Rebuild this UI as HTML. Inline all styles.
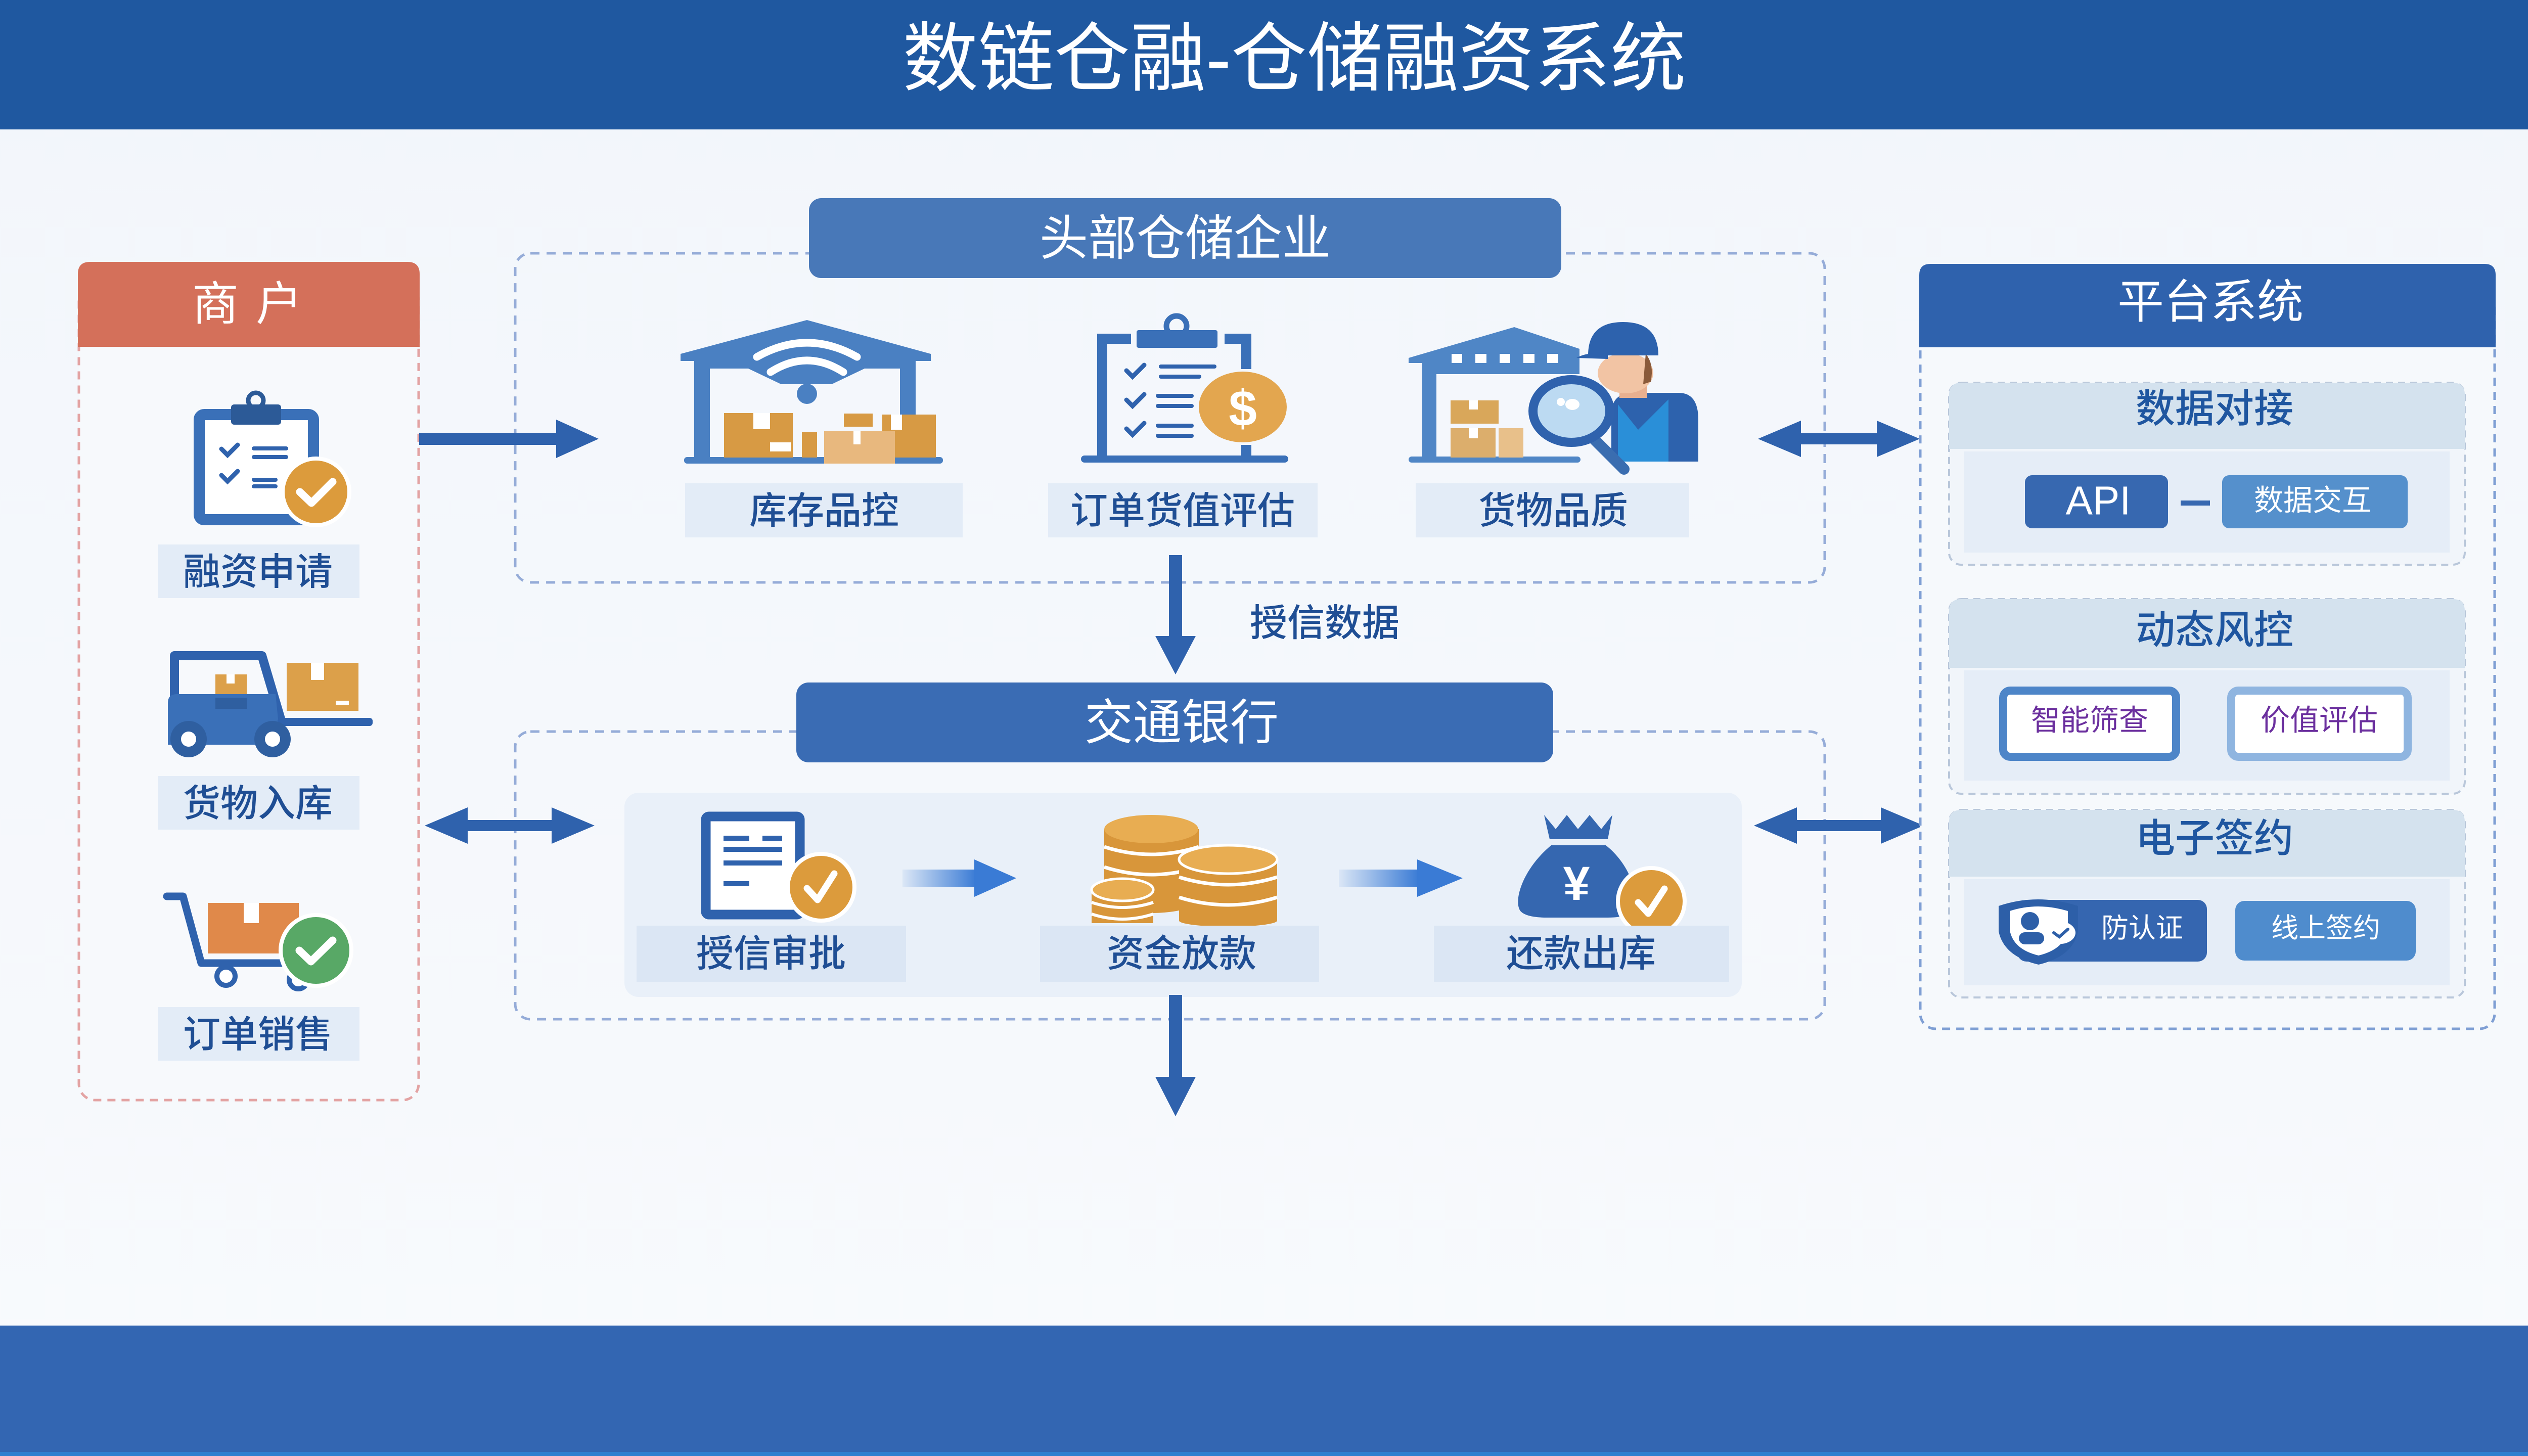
<!DOCTYPE html>
<html><head><meta charset="utf-8">
<style>
html,body{margin:0;padding:0;width:5120px;height:2880px;overflow:hidden;background:#f5f8fc;}
svg{display:block}
text{font-family:"Liberation Sans","Noto Sans CJK SC",sans-serif;}
</style></head><body>
<svg width="5120" height="2880" viewBox="0 0 5120 2880" xmlns="http://www.w3.org/2000/svg">
<defs>
<linearGradient id="bg" x1="0" y1="0" x2="0" y2="1"><stop offset="0" stop-color="#f2f6fb"/><stop offset="1" stop-color="#f8fafd"/></linearGradient>
<linearGradient id="ga" x1="0" x2="1" y1="0" y2="0"><stop offset="0" stop-color="#3a7bd5" stop-opacity="0.08"/><stop offset="1" stop-color="#3a7bd5"/></linearGradient>
</defs>
<rect width="5120" height="2880" fill="url(#bg)"/>

<!-- Header -->
<rect width="5120" height="256" fill="#1f58a0"/>
<text x="2560" y="116" font-size="150" fill="#fff" text-anchor="middle" dominant-baseline="central">数链仓融-仓储融资系统</text>

<!-- Footer -->
<rect y="2622" width="5120" height="258" fill="#3366b2"/>
<rect y="2872" width="5120" height="8" fill="#2f7fcf"/>

<!-- ============ Merchant panel ============ -->
<rect x="156" y="560" width="672" height="1616" rx="32" fill="#f7f9fc" stroke="#e3a3a3" stroke-width="5" stroke-dasharray="16 12"/>
<path d="M154 686 V542 Q154 518 178 518 H806 Q830 518 830 542 V686 Z" fill="#d4705a"/>
<text x="426" y="602" font-size="92" fill="#fff" text-anchor="middle" dominant-baseline="central">商</text>
<text x="552" y="602" font-size="92" fill="#fff" text-anchor="middle" dominant-baseline="central">户</text>

<!-- icon 1 clipboard -->
<rect x="394" y="820" width="226" height="208" rx="10" fill="#fff" stroke="#3a70b8" stroke-width="22"/>
<circle cx="506" cy="792" r="15" fill="none" stroke="#2c5a97" stroke-width="9"/>
<rect x="457" y="800" width="99" height="40" rx="6" fill="#2c5a97"/>
<polyline points="438,888 450,900 470,880" fill="none" stroke="#2f62ad" stroke-width="9" stroke-linecap="round"/>
<polyline points="438,940 450,952 470,932" fill="none" stroke="#2f62ad" stroke-width="9" stroke-linecap="round"/>
<line x1="502" y1="887" x2="566" y2="887" stroke="#2f62ad" stroke-width="8" stroke-linecap="round"/>
<line x1="502" y1="904" x2="566" y2="904" stroke="#2f62ad" stroke-width="8" stroke-linecap="round"/>
<line x1="502" y1="949" x2="545" y2="949" stroke="#2f62ad" stroke-width="8" stroke-linecap="round"/>
<line x1="502" y1="962" x2="545" y2="962" stroke="#2f62ad" stroke-width="8" stroke-linecap="round"/>
<circle cx="625" cy="973" r="66" fill="#dc9b3c" stroke="#fff" stroke-width="8"/>
<polyline points="593,973 616,995 658,953" fill="none" stroke="#fff" stroke-width="15" stroke-linecap="round" stroke-linejoin="round"/>
<rect x="312" y="1077" width="399" height="106" fill="#e3ecf7"/>
<text x="510" y="1131" font-size="74" font-weight="500" fill="#1f4e94" text-anchor="middle" dominant-baseline="central">融资申请</text>

<!-- icon 2 forklift -->
<path d="M345 1400 V1297 H518 L556 1425" fill="none" stroke="#2f62ad" stroke-width="18" stroke-linejoin="round"/>
<rect x="426" y="1334" width="62" height="50" fill="#dca04a"/>
<rect x="448" y="1334" width="16" height="18" fill="#fff"/>
<path d="M332 1390 Q332 1373 350 1373 H545 L555 1473 H332 Z" fill="#3a70b8"/>
<rect x="426" y="1380" width="62" height="22" fill="#2f5fa0"/>
<rect x="549" y="1420" width="188" height="16" rx="6" fill="#2f62ad"/>
<rect x="567" y="1311" width="142" height="95" fill="#dca04a"/>
<rect x="615" y="1311" width="26" height="34" fill="#fff"/>
<rect x="664" y="1386" width="26" height="8" fill="#fff"/>
<circle cx="373" cy="1462" r="36" fill="#2f5fa0"/>
<circle cx="373" cy="1462" r="15" fill="#fff"/>
<circle cx="539" cy="1462" r="36" fill="#2f5fa0"/>
<circle cx="539" cy="1462" r="15" fill="#fff"/>
<rect x="312" y="1535" width="399" height="106" fill="#e3ecf7"/>
<text x="510" y="1589" font-size="74" font-weight="500" fill="#1f4e94" text-anchor="middle" dominant-baseline="central">货物入库</text>

<!-- icon 3 cart -->
<path d="M330 1773 H362 L398 1905 H592" fill="none" stroke="#2f62ad" stroke-width="15" stroke-linecap="round" stroke-linejoin="round"/>
<rect x="411" y="1786" width="180" height="100" fill="#e0894a"/>
<rect x="482" y="1786" width="30" height="40" fill="#fff"/>
<circle cx="447" cy="1931" r="18" fill="#fff" stroke="#2f62ad" stroke-width="10"/>
<circle cx="590" cy="1938" r="18" fill="#fff" stroke="#2f62ad" stroke-width="10"/>
<circle cx="625" cy="1880" r="70" fill="#58a866" stroke="#fff" stroke-width="8"/>
<polyline points="592,1880 615,1902 658,1860" fill="none" stroke="#fff" stroke-width="15" stroke-linecap="round" stroke-linejoin="round"/>
<rect x="312" y="1992" width="399" height="106" fill="#e3ecf7"/>
<text x="510" y="2046" font-size="74" font-weight="500" fill="#1f4e94" text-anchor="middle" dominant-baseline="central">订单销售</text>

<!-- ============ Warehouse section ============ -->
<rect x="1019" y="501" width="2590" height="651" rx="30" fill="none" stroke="#95acd8" stroke-width="5" stroke-dasharray="18 14"/>
<rect x="1600" y="392" width="1488" height="158" rx="24" fill="#4878b8"/>
<text x="2344" y="472" font-size="96" fill="#fff" text-anchor="middle" dominant-baseline="central">头部仓储企业</text>

<!-- arrow merchant -> warehouse -->
<line x1="829" y1="868" x2="1108" y2="868" stroke="#2f62ad" stroke-width="24"/>
<polygon points="1100,830 1184,868 1100,906" fill="#2f62ad"/>

<!-- warehouse icon 1 (wifi) -->
<polygon points="1346,700 1596,633 1841,700 1841,714 1346,714" fill="#4a80c2"/>
<rect x="1373" y="700" width="438" height="29" fill="#4a80c2"/>
<rect x="1373" y="700" width="31" height="212" fill="#4a80c2"/>
<rect x="1780" y="700" width="31" height="150" fill="#4a80c2"/>
<polygon points="1480,729 1710,729 1645,760 1545,760" fill="#4a80c2"/>
<path d="M1497 706 Q1596 650 1695 706" fill="none" stroke="#fff" stroke-width="15" stroke-linecap="round"/>
<path d="M1524 736 Q1596 690 1668 736" fill="none" stroke="#fff" stroke-width="15" stroke-linecap="round"/>
<circle cx="1596" cy="779" r="20" fill="#4a80c2"/>
<rect x="1353" y="904" width="512" height="13" rx="6" fill="#4a80c2"/>
<rect x="1432" y="817" width="136" height="88" fill="#d79a44"/>
<rect x="1490" y="817" width="33" height="32" fill="#fff"/>
<rect x="1523" y="875" width="42" height="18" fill="#fff"/>
<rect x="1586" y="855" width="30" height="50" fill="#d79a44"/>
<rect x="1669" y="818" width="57" height="26" fill="#d79a44"/>
<rect x="1745" y="820" width="106" height="85" fill="#d79a44"/>
<rect x="1762" y="820" width="22" height="30" fill="#fff"/>
<rect x="1630" y="853" width="140" height="64" fill="#e8b87e"/>
<rect x="1688" y="853" width="14" height="26" fill="#fff"/>

<!-- warehouse icon 2 clipboard $ -->
<rect x="2170" y="662" width="305" height="240" fill="none"/>
<path d="M2237 670 H2180 V902" fill="none" stroke="#3a70b8" stroke-width="20"/>
<path d="M2422 670 H2465 V730" fill="none" stroke="#3a70b8" stroke-width="20"/>
<line x1="2465" y1="880" x2="2465" y2="902" stroke="#3a70b8" stroke-width="20"/>
<rect x="2138" y="901" width="410" height="14" rx="7" fill="#3a70b8"/>
<circle cx="2327" cy="645" r="20" fill="none" stroke="#3a70b8" stroke-width="11"/>
<rect x="2248" y="653" width="160" height="35" rx="4" fill="#3a70b8"/>
<polyline points="2228,733 2240,745 2263,722" fill="none" stroke="#2f62ad" stroke-width="9" stroke-linecap="round"/>
<polyline points="2228,791 2240,803 2263,780" fill="none" stroke="#2f62ad" stroke-width="9" stroke-linecap="round"/>
<polyline points="2228,848 2240,860 2263,837" fill="none" stroke="#2f62ad" stroke-width="9" stroke-linecap="round"/>
<line x1="2296" y1="725" x2="2402" y2="725" stroke="#2f62ad" stroke-width="8" stroke-linecap="round"/>
<line x1="2296" y1="745" x2="2372" y2="745" stroke="#2f62ad" stroke-width="8" stroke-linecap="round"/>
<line x1="2290" y1="783" x2="2357" y2="783" stroke="#2f62ad" stroke-width="8" stroke-linecap="round"/>
<line x1="2290" y1="803" x2="2357" y2="803" stroke="#2f62ad" stroke-width="8" stroke-linecap="round"/>
<line x1="2290" y1="842" x2="2357" y2="842" stroke="#2f62ad" stroke-width="8" stroke-linecap="round"/>
<line x1="2290" y1="862" x2="2357" y2="862" stroke="#2f62ad" stroke-width="8" stroke-linecap="round"/>
<ellipse cx="2458" cy="805" rx="87" ry="70" fill="#e3a64f"/>
<text x="2458" y="808" font-size="100" font-weight="bold" fill="#fff" text-anchor="middle" dominant-baseline="central">$</text>

<!-- warehouse icon 3 worker -->
<polygon points="2786,708 2995,647 3124,690 3124,740 2841,740 2841,905 2813,905 2813,718 2786,718" fill="#4f86c6"/>
<rect x="2871" y="700" width="21" height="18" fill="#fff"/>
<rect x="2918" y="700" width="22" height="18" fill="#fff"/>
<rect x="2966" y="700" width="21" height="18" fill="#fff"/>
<rect x="3013" y="700" width="22" height="18" fill="#fff"/>
<rect x="3060" y="700" width="22" height="18" fill="#fff"/>
<rect x="2786" y="903" width="340" height="12" rx="6" fill="#4f86c6"/>
<rect x="2869" y="792" width="95" height="46" fill="#d9a75a"/>
<rect x="2905" y="792" width="18" height="18" fill="#fff"/>
<rect x="2869" y="847" width="89" height="58" fill="#dcae6c"/>
<rect x="2905" y="847" width="18" height="20" fill="#fff"/>
<rect x="2964" y="847" width="49" height="58" fill="#e8c08a"/>
<path d="M3187 913 V820 Q3187 777 3230 777 H3320 Q3359 777 3359 830 V913 Z" fill="#2d62ad"/>
<path d="M3200 913 V800 L3240 850 L3300 790 V913 Z" fill="#2a8fd8"/>
<rect x="3203" y="755" width="55" height="32" fill="#e8b090"/>
<ellipse cx="3215" cy="738" rx="55" ry="40" fill="#f2c4a4"/>
<path d="M3255 700 Q3272 720 3265 755 L3250 760 Z" fill="#8a5a3a"/>
<path d="M3141 703 Q3141 637 3210 637 Q3280 637 3280 703 Z" fill="#2d62ad"/>
<path d="M3118 708 Q3140 695 3180 700 L3180 710 Z" fill="#2d62ad"/>
<line x1="3150" y1="866" x2="3212" y2="928" stroke="#3a6db0" stroke-width="22" stroke-linecap="round"/>
<ellipse cx="3108" cy="813" rx="76" ry="62" fill="#bcdaf2" stroke="#2f62ad" stroke-width="18"/>
<circle cx="3087" cy="795" r="8" fill="#fff"/>
<ellipse cx="3110" cy="800" rx="14" ry="11" fill="#fff"/>

<!-- warehouse labels -->
<rect x="1355" y="956" width="549" height="107" fill="#e3ecf7"/>
<text x="1630" y="1010" font-size="74" font-weight="500" fill="#1f4e94" text-anchor="middle" dominant-baseline="central">库存品控</text>
<rect x="2073" y="956" width="533" height="107" fill="#e3ecf7"/>
<text x="2339" y="1010" font-size="74" font-weight="500" fill="#1f4e94" text-anchor="middle" dominant-baseline="central">订单货值评估</text>
<rect x="2800" y="956" width="541" height="107" fill="#e3ecf7"/>
<text x="3072" y="1010" font-size="74" font-weight="500" fill="#1f4e94" text-anchor="middle" dominant-baseline="central">货物品质</text>

<!-- down arrow 1 -->
<line x1="2325" y1="1098" x2="2325" y2="1264" stroke="#2f62ad" stroke-width="26"/>
<polygon points="2285,1258 2365,1258 2325,1334" fill="#2f62ad"/>
<text x="2620" y="1232" font-size="74" font-weight="500" fill="#1f4e94" text-anchor="middle" dominant-baseline="central">授信数据</text>

<!-- ============ Bank section ============ -->
<rect x="1019" y="1447" width="2590" height="569" rx="30" fill="none" stroke="#95acd8" stroke-width="5" stroke-dasharray="18 14"/>
<rect x="1575" y="1350" width="1497" height="158" rx="24" fill="#3a6cb4"/>
<text x="2337" y="1430" font-size="96" fill="#fff" text-anchor="middle" dominant-baseline="central">交通银行</text>
<rect x="1235" y="1568" width="2210" height="404" rx="28" fill="#e9f0f9"/>

<!-- doc icon -->
<rect x="1396" y="1615" width="186" height="194" rx="6" fill="#fff" stroke="#2f62ad" stroke-width="19"/>
<rect x="1431" y="1653" width="51" height="10" fill="#2f62ad"/>
<rect x="1508" y="1653" width="39" height="10" fill="#2f62ad"/>
<rect x="1431" y="1675" width="116" height="10" fill="#2f62ad"/>
<rect x="1431" y="1702" width="116" height="10" fill="#2f62ad"/>
<rect x="1431" y="1743" width="51" height="10" fill="#2f62ad"/>
<circle cx="1624" cy="1755" r="66" fill="#dc9b3c" stroke="#fff" stroke-width="8"/>
<polyline points="1596,1757 1617,1780 1650,1728" fill="none" stroke="#fff" stroke-width="13" stroke-linecap="round" stroke-linejoin="round"/>

<!-- arrow bank 1 -->
<rect x="1785" y="1720" width="146" height="34" fill="url(#ga)"/>
<polygon points="1927,1700 2010,1737 1927,1774" fill="#3a7bd5"/>

<!-- coins -->
<g>
<rect x="2184" y="1640" width="187" height="140" fill="#d8963a"/>
<ellipse cx="2277" cy="1780" rx="93" ry="26" fill="#d8963a"/>
<path d="M2184 1675 Q2277 1705 2371 1675" fill="none" stroke="#fff" stroke-width="7"/>
<path d="M2184 1715 Q2277 1745 2371 1715" fill="none" stroke="#fff" stroke-width="7"/>
<ellipse cx="2277" cy="1640" rx="93" ry="28" fill="#e8ad52"/>
<rect x="2332" y="1700" width="194" height="121" fill="#d8963a"/>
<ellipse cx="2429" cy="1821" rx="97" ry="12" fill="#d8963a"/>
<path d="M2332 1735 Q2429 1765 2526 1735" fill="none" stroke="#fff" stroke-width="7"/>
<path d="M2332 1775 Q2429 1805 2526 1775" fill="none" stroke="#fff" stroke-width="7"/>
<ellipse cx="2429" cy="1700" rx="97" ry="28" fill="#e8ad52" stroke="#fff" stroke-width="5"/>
<rect x="2159" y="1760" width="122" height="66" fill="#d8963a"/>
<path d="M2159 1785 Q2220 1805 2281 1785" fill="none" stroke="#fff" stroke-width="6"/>
<path d="M2159 1808 Q2220 1828 2281 1808" fill="none" stroke="#fff" stroke-width="6"/>
<ellipse cx="2220" cy="1760" rx="61" ry="22" fill="#e8ad52" stroke="#fff" stroke-width="5"/>
</g>

<!-- arrow bank 2 -->
<rect x="2648" y="1720" width="158" height="34" fill="url(#ga)"/>
<polygon points="2803,1700 2893,1737 2803,1774" fill="#3a7bd5"/>

<!-- money bag -->
<polygon points="3054,1612 3077,1640 3099,1612 3121,1640 3144,1612 3167,1640 3189,1612 3180,1660 3065,1660" fill="#3567b0"/>
<path d="M3068 1672 C3010 1720 2992 1785 3008 1803 Q3020 1815 3060 1815 H3180 Q3228 1815 3232 1792 C3240 1750 3212 1700 3176 1672 Z" fill="#3567b0"/>
<text x="3118" y="1748" font-size="95" font-weight="bold" fill="#fff" text-anchor="middle" dominant-baseline="central">¥</text>
<circle cx="3266" cy="1783" r="66" fill="#dc9b3c" stroke="#fff" stroke-width="8"/>
<polyline points="3240,1785 3260,1807 3292,1758" fill="none" stroke="#fff" stroke-width="13" stroke-linecap="round" stroke-linejoin="round"/>

<!-- bank labels -->
<rect x="1259" y="1831" width="533" height="111" fill="#dbe6f4"/>
<text x="1525" y="1886" font-size="74" font-weight="500" fill="#1f4e94" text-anchor="middle" dominant-baseline="central">授信审批</text>
<rect x="2057" y="1831" width="552" height="111" fill="#dbe6f4"/>
<text x="2337" y="1886" font-size="74" font-weight="500" fill="#1f4e94" text-anchor="middle" dominant-baseline="central">资金放款</text>
<rect x="2836" y="1831" width="584" height="111" fill="#dbe6f4"/>
<text x="3127" y="1886" font-size="74" font-weight="500" fill="#1f4e94" text-anchor="middle" dominant-baseline="central">还款出库</text>

<!-- down arrow 2 -->
<line x1="2325" y1="1968" x2="2325" y2="2136" stroke="#2f62ad" stroke-width="26"/>
<polygon points="2285,2130 2365,2130 2325,2208" fill="#2f62ad"/>

<!-- double arrows -->
<g fill="#2f62ad" stroke="#2f62ad">
<line x1="920" y1="1633" x2="1096" y2="1633" stroke-width="22"/>
<polygon points="840,1633 925,1597 925,1669" stroke="none"/>
<polygon points="1176,1633 1091,1597 1091,1669" stroke="none"/>

<line x1="3557" y1="868" x2="3717" y2="868" stroke-width="22"/>
<polygon points="3477,868 3562,832 3562,904" stroke="none"/>
<polygon points="3797,868 3712,832 3712,904" stroke="none"/>

<line x1="3549" y1="1633" x2="3725" y2="1633" stroke-width="22"/>
<polygon points="3469,1633 3554,1597 3554,1669" stroke="none"/>
<polygon points="3805,1633 3720,1597 3720,1669" stroke="none"/>
</g>

<!-- ============ Platform panel ============ -->
<rect x="3798" y="580" width="1136" height="1455" rx="30" fill="#f6f9fc" stroke="#7f9fd4" stroke-width="5" stroke-dasharray="16 12"/>
<path d="M3796 687 V544 Q3796 522 3818 522 H4914 Q4936 522 4936 544 V687 Z" fill="#2f62ad"/>
<text x="4372" y="598" font-size="92" fill="#fff" text-anchor="middle" dominant-baseline="central">平台系统</text>

<!-- sec1 -->
<rect x="3855" y="757" width="1020" height="360" rx="24" fill="#f1f5fa" stroke="#b9c7da" stroke-width="4" stroke-dasharray="14 10"/>
<path d="M3855 888 V781 Q3855 757 3879 757 H4851 Q4875 757 4875 781 V888 Z" fill="#d4e2ee"/>
<rect x="3884" y="893" width="961" height="200" fill="#e5edf7"/>
<text x="4380" y="808" font-size="78" font-weight="500" fill="#1f56a0" text-anchor="middle" dominant-baseline="central">数据对接</text>
<rect x="4005" y="940" width="283" height="105" rx="14" fill="#3768b0"/>
<text x="4150" y="990" font-size="80" fill="#fff" text-anchor="middle" dominant-baseline="central">API</text>
<rect x="4313" y="990" width="58" height="10" fill="#3768b0"/>
<rect x="4395" y="940" width="367" height="105" rx="14" fill="#5590cc"/>
<text x="4574" y="990" font-size="58" fill="#fff" text-anchor="middle" dominant-baseline="central">数据交互</text>

<!-- sec2 -->
<rect x="3855" y="1185" width="1020" height="385" rx="24" fill="#f1f5fa" stroke="#b9c7da" stroke-width="4" stroke-dasharray="14 10"/>
<path d="M3855 1321 V1209 Q3855 1185 3879 1185 H4851 Q4875 1185 4875 1209 V1321 Z" fill="#d4e2ee"/>
<rect x="3884" y="1326" width="961" height="218" fill="#e5edf7"/>
<text x="4380" y="1246" font-size="78" font-weight="500" fill="#1f56a0" text-anchor="middle" dominant-baseline="central">动态风控</text>
<rect x="3962" y="1366" width="342" height="131" rx="14" fill="#fff" stroke="#4d85c8" stroke-width="16"/>
<text x="4133" y="1425" font-size="58" fill="#6b2f9e" text-anchor="middle" dominant-baseline="central">智能筛查</text>
<rect x="4413" y="1366" width="349" height="131" rx="14" fill="#fff" stroke="#8fb5e0" stroke-width="16"/>
<text x="4587" y="1425" font-size="58" fill="#6b2f9e" text-anchor="middle" dominant-baseline="central">价值评估</text>

<!-- sec3 -->
<rect x="3855" y="1602" width="1020" height="371" rx="24" fill="#f1f5fa" stroke="#b9c7da" stroke-width="4" stroke-dasharray="14 10"/>
<path d="M3855 1734 V1626 Q3855 1602 3879 1602 H4851 Q4875 1602 4875 1626 V1734 Z" fill="#d4e2ee"/>
<rect x="3884" y="1739" width="961" height="210" fill="#e5edf7"/>
<text x="4380" y="1658" font-size="78" font-weight="500" fill="#1f56a0" text-anchor="middle" dominant-baseline="central">电子签约</text>
<rect x="3990" y="1780" width="375" height="122" rx="18" fill="#3566b0"/>
<path d="M3953 1792 Q4030 1766 4110 1792 L4110 1842 Q4100 1892 4032 1908 Q3963 1892 3953 1842 Z" fill="#2d5fa8"/>
<path d="M3975 1802 Q4030 1784 4090 1802 L4090 1840 Q4082 1878 4032 1890 Q3982 1878 3975 1840 Z" fill="#fff"/>
<circle cx="4015" cy="1822" r="18" fill="#2d5fa8"/>
<rect x="3993" y="1844" width="50" height="24" rx="12" fill="#2d5fa8"/>
<ellipse cx="4075" cy="1845" rx="30" ry="22" fill="#fff"/>
<polyline points="4062,1845 4073,1853 4090,1838" fill="none" stroke="#2d5fa8" stroke-width="6" stroke-linecap="round"/>
<text x="4237" y="1836" font-size="54" fill="#fff" text-anchor="middle" dominant-baseline="central">防认证</text>
<rect x="4421" y="1782" width="357" height="118" rx="18" fill="#4f8ccd"/>
<text x="4600" y="1836" font-size="54" fill="#fff" text-anchor="middle" dominant-baseline="central">线上签约</text>

</svg>
</body></html>
